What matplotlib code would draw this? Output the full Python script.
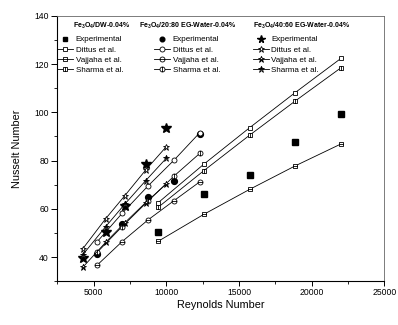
import matplotlib

matplotlib.use("Agg")

import matplotlib.pyplot as plt
from matplotlib.legend import Legend
from matplotlib.lines import Line2D
from matplotlib.path import Path

plt.rcParams["font.family"] = ["Liberation Sans", "DejaVu Sans"]
plt.rcParams["mathtext.fontset"] = "custom"
plt.rcParams["mathtext.rm"] = "Liberation Sans"
plt.rcParams["mathtext.bf"] = "Liberation Sans:bold"

# Fe3O4 / DW
re_dw = [9430, 12575, 15740, 18860, 22010]
nu_dw_exp = [50.2, 66.0, 74.0, 87.9, 99.3]
nu_dw_dittus = [62.5, 78.5, 93.7, 108.2, 122.4]
nu_dw_vajjaha = [46.5, 57.7, 68.1, 77.8, 86.9]
nu_dw_sharma = [60.6, 75.8, 90.6, 104.7, 118.5]

# Fe3O4 / 20:80 EG-Water
re_eg20 = [5250, 6955, 8740, 10530, 12300]
nu_eg20_exp = [41.2, 53.7, 65.0, 71.5, 91.2]
nu_eg20_dittus = [46.4, 58.1, 69.5, 80.2, 91.6]
nu_eg20_vajjaha = [36.7, 46.4, 55.4, 63.4, 71.2]
nu_eg20_sharma = [42.0, 52.6, 63.2, 73.6, 83.0]

# Fe3O4 / 40:60 EG-Water
re_eg40 = [4260, 5825, 7135, 8580, 10000]
nu_eg40_exp = [39.5, 50.5, 61.2, 78.5, 93.7]
nu_eg40_dittus = [43.5, 55.9, 65.4, 76.1, 85.8]
nu_eg40_vajjaha = [35.8, 46.1, 54.2, 62.6, 70.3]
nu_eg40_sharma = [41.0, 52.6, 61.9, 71.7, 81.0]

group_titles = [r"Fe$_\mathbf{3}$O$_\mathbf{4}$/DW-0.04%",
                r"Fe$_\mathbf{3}$O$_\mathbf{4}$/20:80 EG-Water-0.04%",
                r"Fe$_\mathbf{3}$O$_\mathbf{4}$/40:60 EG-Water-0.04%"]
model_names = ["Dittus et al.", "Vajjaha et al.", "Sharma et al."]


def barred(base, horizontal):
    seg = [(-1, 0), (1, 0)] if horizontal else [(0, -1), (0, 1)]
    return Path.make_compound_path(base, Path(seg, [Path.MOVETO, Path.LINETO]))


square = Path.unit_rectangle().transformed(
    matplotlib.transforms.Affine2D().translate(-0.5, -0.5).scale(2))
circle = Path.unit_circle()
sq_h, sq_v = barred(square, True), barred(square, False)
ci_h, ci_v = barred(circle, True), barred(circle, False)

fig = plt.figure(figsize=(3.98, 3.25), dpi=100)
ax = fig.add_axes([0.144, 0.135, 0.822, 0.816])

LW = 0.6
open_kw = dict(color="black", lw=LW, mfc="white", mec="black", mew=0.6)


def draw_group(re, exp, dittus, vajjaha, sharma, exp_m, exp_ms, ms, mk):
    ax.plot(re, exp, ls="none", marker=exp_m, ms=exp_ms, color="black")
    handles = [Line2D([], [], ls="none", marker=exp_m, ms=exp_ms * 0.8, color="black")]
    for vals, m in zip([dittus, vajjaha, sharma], mk):
        kw = dict(open_kw)
        if isinstance(m, tuple):
            m, fs = m
            kw.update(fillstyle=fs, markerfacecoloralt="white", mfc="black")
        ax.plot(re, vals, marker=m, ms=ms, **kw)
        handles.append(Line2D([], [], marker=m, ms=ms, **kw))
    return handles


h_dw = draw_group(re_dw, nu_dw_exp, nu_dw_dittus, nu_dw_vajjaha, nu_dw_sharma,
                  "s", 4.0, 3.4, ["s", sq_h, sq_v])
h_20 = draw_group(re_eg20, nu_eg20_exp, nu_eg20_dittus, nu_eg20_vajjaha, nu_eg20_sharma,
                  "o", 4.2, 3.6, ["o", ci_h, ci_v])
h_40 = draw_group(re_eg40, nu_eg40_exp, nu_eg40_dittus, nu_eg40_vajjaha, nu_eg40_sharma,
                  "*", 7.0, 5.0, ["*", ("*", "bottom"), ("*", "top")])

ax.set_xlim(2500, 25000)
ax.set_ylim(30, 140)
ax.set_xticks([5000, 10000, 15000, 20000, 25000])
ax.set_xticks([2500, 7500, 12500, 17500, 22500], minor=True)
ax.set_yticks([40, 60, 80, 100, 120, 140])
ax.set_yticks([30, 50, 70, 90, 110, 130], minor=True)
ax.tick_params(which="major", direction="out", length=3.5, width=0.7, labelsize=6.2, pad=1.5)
ax.tick_params(which="minor", direction="out", length=2, width=0.6)
ax.tick_params(axis="y", which="major", length=4.5, pad=1.5)
ax.tick_params(top=False, right=False, which="both")
ax.set_xlabel("Reynolds Number", fontsize=7.8, labelpad=2)
ax.set_ylabel("Nusselt Number", fontsize=7.8, labelpad=9)
for side in ["left", "bottom"]:
    ax.spines[side].set_linewidth(0.8)
for side in ["top", "right"]:
    ax.spines[side].set_linewidth(0.6)
    ax.spines[side].set_color("#666666")

title_x = [0.048, 0.250, 0.598]
leg_x = [0.0, 0.296, 0.598]
for t, x in zip(group_titles, title_x):
    ax.text(x, 0.964, t, transform=ax.transAxes, fontsize=5.0, fontweight="bold",
            ha="left", va="center")

for handles, x in zip([h_dw, h_20, h_40], leg_x):
    leg = Legend(ax, handles, ["Experimental"] + model_names, loc="upper left",
                 bbox_to_anchor=(x, 0.925), frameon=False, fontsize=5.8,
                 borderpad=0, borderaxespad=0, labelspacing=0.3,
                 handlelength=2.0, handletextpad=0.3)
    ax.add_artist(leg)

fig.savefig("out.png", dpi=100)
